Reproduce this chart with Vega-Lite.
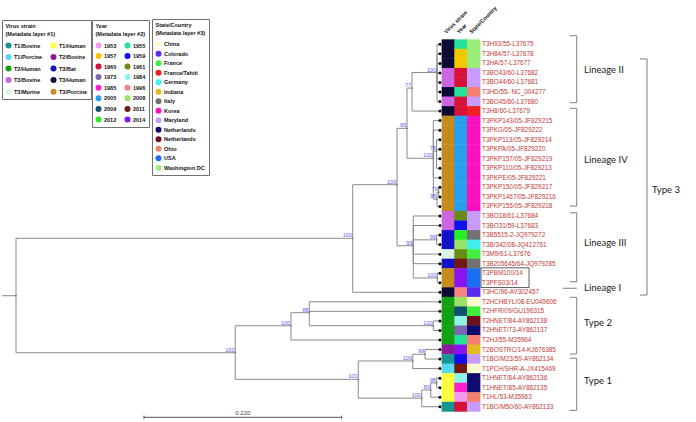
{
  "$schema": "https://vega.github.io/schema/vega-lite/v6.json",
  "width": 696,
  "height": 422,
  "autosize": {"type": "none"},
  "padding": 0,
  "background": "#ffffff",
  "config": {
    "view": {"stroke": null},
    "axis": {"disable": true},
    "legend": {
      "labelFont": "Liberation Sans",
      "labelFontSize": 5.5,
      "labelFontWeight": "bold",
      "labelColor": "#111111",
      "titleFont": "Liberation Sans",
      "titleFontSize": 5.5,
      "titleFontWeight": "bold",
      "titleColor": "#111111",
      "titleLineHeight": 8.3,
      "titlePadding": 5,
      "strokeColor": "#707070",
      "fillColor": "#ffffff",
      "padding": 3.5,
      "rowPadding": 3.6,
      "columnPadding": 8,
      "symbolSize": 36,
      "symbolType": "circle",
      "symbolStrokeWidth": 0,
      "labelOffset": 2.5
    }
  },
  "datasets": {
    "nodes": [
      {"id": "stub", "parent": null, "dist": -0.0156, "pos": 27.36},
      {"id": "root", "parent": "stub", "dist": 0, "pos": 27.36},
      {"id": "T3", "parent": "root", "dist": 0.3747, "pos": 21.34, "boot": "100"},
      {"id": "T12", "parent": "root", "dist": 0.244, "pos": 33.34, "boot": "100"},
      {"id": "A", "parent": "T3", "dist": 0.424, "pos": 15.72, "boot": "100"},
      {"id": "D", "parent": "A", "dist": 0.4351, "pos": 9.81, "boot": "95"},
      {"id": "C", "parent": "A", "dist": 0.4421, "pos": 22.12, "boot": "99"},
      {"id": "E", "parent": "D", "dist": 0.4407, "pos": 5.59, "boot": "77"},
      {"id": "F", "parent": "D", "dist": 0.4644, "pos": 12.95, "boot": "100"},
      {"id": "G", "parent": "E", "dist": 0.4685, "pos": 3.96, "boot": "100"},
      {"id": "N78", "parent": "F", "dist": 0.468, "pos": 12.2, "boot": "78"},
      {"id": "N95", "parent": "F", "dist": 0.4685, "pos": 17.25, "boot": "95"},
      {"id": "N79", "parent": "N95", "dist": 0.4704, "pos": 16.5, "boot": "79"},
      {"id": "N99a", "parent": "C", "dist": 0.4681, "pos": 21.5, "boot": "99"},
      {"id": "N100a", "parent": "C", "dist": 0.4688, "pos": 25.5, "boot": "100"},
      {"id": "T2", "parent": "T12", "dist": 0.306, "pos": 30.51, "boot": "100"},
      {"id": "T1", "parent": "T12", "dist": 0.3809, "pos": 36.13, "boot": "100"},
      {"id": "N88", "parent": "T2", "dist": 0.3264, "pos": 29.14, "boot": "88"},
      {"id": "N100b", "parent": "N88", "dist": 0.4644, "pos": 30.5, "boot": "100"},
      {"id": "N100c", "parent": "T1", "dist": 0.4415, "pos": 34.2, "boot": "100"},
      {"id": "N99b", "parent": "N100c", "dist": 0.4551, "pos": 33.5, "boot": "99"},
      {"id": "N100d", "parent": "T1", "dist": 0.4515, "pos": 38.1, "boot": "100"},
      {"id": "N83", "parent": "N100d", "dist": 0.4615, "pos": 37.25, "boot": "83"},
      {"id": "N98", "parent": "N83", "dist": 0.4681, "pos": 36.5, "boot": "98"},
      {"id": "L1", "parent": "G", "dist": 0.4718, "pos": 1, "name": "T3H93/55-L37675", "strain": "T3/Human", "year": "1955", "state": "Washington DC"},
      {"id": "L2", "parent": "G", "dist": 0.4718, "pos": 2, "name": "T3H84/57-L37678", "strain": "T3/Human", "year": "1957", "state": "Washington DC"},
      {"id": "L3", "parent": "G", "dist": 0.4718, "pos": 3, "name": "T3HA/57-L37677", "strain": "T3/Human", "year": "1957", "state": "Washington DC"},
      {"id": "L4", "parent": "G", "dist": 0.4718, "pos": 4, "name": "T3BO43/60-L37682", "strain": "T3/Bovine", "year": "1960", "state": "Maryland"},
      {"id": "L5", "parent": "G", "dist": 0.4718, "pos": 5, "name": "T3BO44/60-L37681", "strain": "T3/Bovine", "year": "1960", "state": "Maryland"},
      {"id": "L6", "parent": "G", "dist": 0.4718, "pos": 6, "name": "T3HD/55- NC_004277", "strain": "T3/Human", "year": "1955", "state": "Ohio"},
      {"id": "L7", "parent": "G", "dist": 0.4718, "pos": 7, "name": "T3BO45/60-L37680", "strain": "T3/Bovine", "year": "1960", "state": "Maryland"},
      {"id": "L8", "parent": "E", "dist": 0.4718, "pos": 8, "name": "T3H8/60-L37679", "strain": "T3/Human", "year": "1960", "state": "France/Tahiti"},
      {"id": "L9", "parent": "F", "dist": 0.4718, "pos": 9, "name": "T3PKP143/05-JF829215", "strain": "T3/Porcine", "year": "2005", "state": "Korea"},
      {"id": "L10", "parent": "F", "dist": 0.4718, "pos": 10, "name": "T3PKG/05-JF829222", "strain": "T3/Porcine", "year": "2005", "state": "Korea"},
      {"id": "L11", "parent": "N78", "dist": 0.4718, "pos": 11, "name": "T3PKP113/05-JF829214", "strain": "T3/Porcine", "year": "2005", "state": "Korea"},
      {"id": "L12", "parent": "N78", "dist": 0.4718, "pos": 12, "name": "T3PKPA/05-JF829220", "strain": "T3/Porcine", "year": "2005", "state": "Korea"},
      {"id": "L13", "parent": "N78", "dist": 0.4718, "pos": 13, "name": "T3PKP157/05-JF829219", "strain": "T3/Porcine", "year": "2005", "state": "Korea"},
      {"id": "L14", "parent": "N78", "dist": 0.4718, "pos": 14, "name": "T3PKP110/05-JF829213", "strain": "T3/Porcine", "year": "2005", "state": "Korea"},
      {"id": "L15", "parent": "F", "dist": 0.4718, "pos": 15, "name": "T3PKPE/05-JF829221", "strain": "T3/Porcine", "year": "2005", "state": "Korea"},
      {"id": "L16", "parent": "N79", "dist": 0.4718, "pos": 16, "name": "T3PKP150/05-JF829217", "strain": "T3/Porcine", "year": "2005", "state": "Korea"},
      {"id": "L17", "parent": "N79", "dist": 0.4718, "pos": 17, "name": "T3PKP1467/05-JF829216", "strain": "T3/Porcine", "year": "2005", "state": "Korea"},
      {"id": "L18", "parent": "N95", "dist": 0.4718, "pos": 18, "name": "T3PKP155/05-JF829218", "strain": "T3/Porcine", "year": "2005", "state": "Korea"},
      {"id": "L19", "parent": "C", "dist": 0.4718, "pos": 19, "name": "T3BO18/61-L37684", "strain": "T3/Bovine", "year": "1961", "state": "Maryland"},
      {"id": "L20", "parent": "C", "dist": 0.4718, "pos": 20, "name": "T3BO31/59-L37683", "strain": "T3/Bovine", "year": "1959", "state": "Maryland"},
      {"id": "L21", "parent": "N99a", "dist": 0.4718, "pos": 21, "name": "T3B5515-2-JQ979272", "strain": "T3/Bat", "year": "2012", "state": "Italy"},
      {"id": "L22", "parent": "N99a", "dist": 0.4718, "pos": 22, "name": "T3B/342/08-JQ412761", "strain": "T3/Bat", "year": "2008", "state": "Germany"},
      {"id": "L23", "parent": "C", "dist": 0.4718, "pos": 23, "name": "T3M9/61-L37676", "strain": "T3/Murine", "year": "1961", "state": "France"},
      {"id": "L24", "parent": "C", "dist": 0.4718, "pos": 24, "name": "T3B205645/64-JQ979285", "strain": "T3/Bat", "year": "2011", "state": "Italy"},
      {"id": "L25", "parent": "N100a", "dist": 0.4718, "pos": 25, "name": "T3PBM100/14", "strain": "T3/Porcine", "year": "2014", "state": "USA"},
      {"id": "L26", "parent": "N100a", "dist": 0.4718, "pos": 26, "name": "T3PFS03/14", "strain": "T3/Porcine", "year": "2014", "state": "USA"},
      {"id": "L27", "parent": "T3", "dist": 0.4718, "pos": 27, "name": "T3HC/96-AY302457", "strain": "T3/Human", "year": "1996", "state": "Colorado"},
      {"id": "L28", "parent": "N88", "dist": 0.4718, "pos": 28, "name": "T2HCHBYL/08-EU049606", "strain": "T2/Human", "year": "2008", "state": "China"},
      {"id": "L29", "parent": "N88", "dist": 0.4718, "pos": 29, "name": "T2HFR/09/GU196315", "strain": "T2/Human", "year": "2009", "state": "France"},
      {"id": "L30", "parent": "N100b", "dist": 0.4718, "pos": 30, "name": "T2HNET/84-AY862138", "strain": "T2/Human", "year": "1984", "state": "Netherlands_2"},
      {"id": "L31", "parent": "N100b", "dist": 0.4718, "pos": 31, "name": "T2HNET/73-AY862137", "strain": "T2/Human", "year": "1973", "state": "Netherlands"},
      {"id": "L32", "parent": "T2", "dist": 0.4718, "pos": 32, "name": "T2HJ/55-M35964", "strain": "T2/Human", "year": "1955", "state": "Ohio"},
      {"id": "L33", "parent": "N99b", "dist": 0.4718, "pos": 33, "name": "T2BOSTRC/14-KJ676385", "strain": "T2/Bovine", "year": "2014", "state": "Indiana"},
      {"id": "L34", "parent": "N99b", "dist": 0.4718, "pos": 34, "name": "T1BO/M23/59-AY862134", "strain": "T1/Bovine", "year": "1959", "state": "Maryland"},
      {"id": "L35", "parent": "N100c", "dist": 0.4718, "pos": 35, "name": "T1PCH/SHR-A-JX415469", "strain": "T1/Porcine", "year": "2011", "state": "China"},
      {"id": "L36", "parent": "N98", "dist": 0.4718, "pos": 36, "name": "T1HNET/84-AY862136", "strain": "T1/Human", "year": "1984", "state": "Netherlands"},
      {"id": "L37", "parent": "N98", "dist": 0.4718, "pos": 37, "name": "T1HNET/85-AY862135", "strain": "T1/Human", "year": "1985", "state": "Netherlands"},
      {"id": "L38", "parent": "N83", "dist": 0.4718, "pos": 38, "name": "T1HL/53-M35963", "strain": "T1/Human", "year": "1953", "state": "Ohio"},
      {"id": "L39", "parent": "N100d", "dist": 0.4718, "pos": 39, "name": "T1BO/M50/60-AY862133", "strain": "T1/Bovine", "year": "1960", "state": "Maryland"}
    ],
    "groups": [
      {"group": "Lineage II", "kind": "lineage", "top": 0.1, "bottom": 7.12, "mid": 3.69},
      {"group": "Lineage IV", "kind": "lineage", "top": 7.71, "bottom": 17.96, "mid": 13.13},
      {"group": "Lineage III", "kind": "lineage", "top": 18.66, "bottom": 25.89, "mid": 21.8},
      {"group": "Lineage I", "kind": "single", "top": 26.58, "bottom": 26.58, "mid": 26.5},
      {"group": "Type 2", "kind": "lineage", "top": 27.53, "bottom": 33.47, "mid": 30.25},
      {"group": "Type 1", "kind": "lineage", "top": 33.92, "bottom": 39.38, "mid": 36.27},
      {"group": "Type 3", "kind": "type", "top": 2.54, "bottom": 27.29, "mid": 16.28}
    ],
    "bar": [{"start": 0.1424, "end": 0.3624, "length": "0.220"}]
  },
  "resolve": {"scale": {"color": "independent"}},
  "layer": [
    {
      "data": {"name": "nodes"},
      "transform": [
        {"lookup": "parent", "from": {"data": {"name": "nodes"}, "key": "id", "fields": ["dist", "pos"]}, "as": ["pdist", "ppos"]},
        {"filter": "isValid(datum.pdist)"}
      ],
      "mark": {"type": "rule", "color": "#8a8a8a", "strokeWidth": 1},
      "encoding": {
        "x": {"field": "pdist", "type": "quantitative", "scale": {"domain": [-0.0178, 0.7567], "nice": false, "zero": false}, "axis": null},
        "x2": {"field": "dist"},
        "y": {"field": "pos", "type": "quantitative", "scale": {"domain": [-3.645, 40.6], "nice": false, "zero": false, "reverse": true}, "axis": null}
      }
    },
    {
      "data": {"name": "nodes"},
      "transform": [
        {"lookup": "parent", "from": {"data": {"name": "nodes"}, "key": "id", "fields": ["dist", "pos"]}, "as": ["pdist", "ppos"]},
        {"filter": "isValid(datum.pdist)"}
      ],
      "mark": {"type": "rule", "color": "#8a8a8a", "strokeWidth": 1},
      "encoding": {
        "x": {"field": "pdist", "type": "quantitative", "scale": {"domain": [-0.0178, 0.7567], "nice": false, "zero": false}, "axis": null},
        "y": {"field": "ppos", "type": "quantitative", "scale": {"domain": [-3.645, 40.6], "nice": false, "zero": false, "reverse": true}, "axis": null},
        "y2": {"field": "pos"}
      }
    },
    {
      "data": {"name": "nodes"},
      "transform": [{"filter": "!isValid(datum.name) && datum.id != 'stub'"}],
      "mark": {"type": "point", "filled": true, "opacity": 1, "color": "#7a7a7a", "size": 3},
      "encoding": {
        "x": {"field": "dist", "type": "quantitative"},
        "y": {"field": "pos", "type": "quantitative"}
      }
    },
    {
      "data": {"name": "nodes"},
      "transform": [{"filter": "isValid(datum.name)"}],
      "mark": {"type": "point", "filled": true, "opacity": 1, "color": "#000000", "size": 9},
      "encoding": {
        "x": {"field": "dist", "type": "quantitative"},
        "y": {"field": "pos", "type": "quantitative"}
      }
    },
    {
      "data": {"name": "nodes"},
      "transform": [{"filter": "isValid(datum.boot)"}],
      "mark": {"type": "text", "align": "right", "baseline": "bottom", "dx": -0.8, "font": "Liberation Sans", "fontSize": 5.5, "color": "#5858ee"},
      "encoding": {
        "x": {"field": "dist", "type": "quantitative"},
        "y": {"field": "pos", "type": "quantitative"},
        "text": {"field": "boot"}
      }
    },
    {
      "data": {"name": "nodes"},
      "transform": [{"filter": "isValid(datum.name)"}],
      "mark": {"type": "point", "filled": true, "opacity": 1, "strokeWidth": 0, "size": 180, "shape": "M-1,-0.74H1V0.74H-1Z"},
      "encoding": {
        "x": {"datum": 0.4811, "type": "quantitative"},
        "y": {"field": "pos", "type": "quantitative"},
        "color": {
          "field": "strain", "type": "nominal",
          "scale": {
            "domain": ["T1/Bovine", "T1/Porcine", "T2/Human", "T3/Bovine", "T3/Murine", "T1/Human", "T2/Bovine", "T3/Bat", "T3/Human", "T3/Porcine"],
            "range": ["#179595", "#55d8f2", "#14a014", "#cc66e0", "#d8f5e2", "#ffff40", "#8b1a9c", "#1212c8", "#0b0b33", "#c58b1c"]
          },
          "legend": {"title": ["Virus strain", "(Metadata layer #1)"], "orient": "none", "legendX": 2, "legendY": 20, "columns": 2, "rowPadding": 4.6}
        }
      }
    },
    {
      "data": {"name": "nodes"},
      "transform": [{"filter": "isValid(datum.name)"}],
      "mark": {"type": "point", "filled": true, "opacity": 1, "strokeWidth": 0, "size": 180, "shape": "M-1,-0.74H1V0.74H-1Z"},
      "encoding": {
        "x": {"datum": 0.4952, "type": "quantitative"},
        "y": {"field": "pos", "type": "quantitative"},
        "color": {
          "field": "year", "type": "nominal",
          "scale": {
            "domain": ["1953", "1957", "1960", "1973", "1985", "2005", "2009", "2012", "1955", "1959", "1961", "1984", "1996", "2008", "2011", "2014"],
            "range": ["#f29bf2", "#f5c800", "#d4123a", "#7a68b0", "#ff1fcf", "#269ff0", "#12506f", "#24f024", "#22e39a", "#1010ee", "#6b8c12", "#8ef5e6", "#f58585", "#99e266", "#701a12", "#8a14f0"]
          },
          "legend": {"title": ["Year", "(Metadata layer #2)"], "orient": "none", "legendX": 92, "legendY": 20, "columns": 2, "rowPadding": 3.6}
        }
      }
    },
    {
      "data": {"name": "nodes"},
      "transform": [{"filter": "isValid(datum.name)"}],
      "mark": {"type": "point", "filled": true, "opacity": 1, "strokeWidth": 0, "size": 180, "shape": "M-1,-0.74H1V0.74H-1Z"},
      "encoding": {
        "x": {"datum": 0.5093, "type": "quantitative"},
        "y": {"field": "pos", "type": "quantitative"},
        "color": {
          "field": "state", "type": "nominal",
          "scale": {
            "domain": ["China", "Colorado", "France", "France/Tahiti", "Germany", "Indiana", "Italy", "Korea", "Maryland", "Netherlands", "Netherlands_2", "Ohio", "USA", "Washington DC"],
            "range": ["#fffacc", "#5a2af0", "#40ee40", "#f02020", "#40f0f0", "#e3bb1c", "#727272", "#ff10be", "#c89bff", "#0c0c6e", "#6e1020", "#f5806e", "#1a6ff0", "#9bee77"]
          },
          "legend": {"title": ["State/Country", "(Metadata layer #3)"], "orient": "none", "legendX": 152, "legendY": 19, "columns": 1, "rowPadding": 2.5, "labelExpr": "datum.label == 'Netherlands_2' ? 'Netherlands' : datum.label"}
        }
      }
    },
    {
      "data": {"name": "nodes"},
      "transform": [{"filter": "isValid(datum.name)"}],
      "mark": {"type": "text", "align": "left", "baseline": "middle", "dx": 42, "font": "Liberation Sans", "fontSize": 6.4, "color": "#c23a36"},
      "encoding": {
        "x": {"field": "dist", "type": "quantitative"},
        "y": {"field": "pos", "type": "quantitative"},
        "text": {"field": "name"}
      }
    },
    {
      "data": {"values": [{}]},
      "mark": {"type": "point", "filled": false, "opacity": 1, "color": "#333333", "strokeWidth": 0.8, "size": 2304, "shape": "M-1,-0.41H1V0.41H-1Z"},
      "encoding": {
        "x": {"datum": 0.5442, "type": "quantitative"},
        "y": {"datum": 25.47, "type": "quantitative"}
      }
    },
    {
      "data": {"values": [{}]},
      "mark": {"type": "text", "text": "Virus strain", "angle": 315, "align": "left", "baseline": "alphabetic", "dx": -3, "font": "Liberation Sans", "fontSize": 5.5, "fontWeight": "bold", "color": "#111111"},
      "encoding": {
        "x": {"datum": 0.4811, "type": "quantitative"},
        "y": {"datum": -0.29, "type": "quantitative"}
      }
    },
    {
      "data": {"values": [{}]},
      "mark": {"type": "text", "text": "Year", "angle": 315, "align": "left", "baseline": "alphabetic", "dx": -3, "font": "Liberation Sans", "fontSize": 5.5, "fontWeight": "bold", "color": "#111111"},
      "encoding": {
        "x": {"datum": 0.4952, "type": "quantitative"},
        "y": {"datum": -0.29, "type": "quantitative"}
      }
    },
    {
      "data": {"values": [{}]},
      "mark": {"type": "text", "text": "State/Country", "angle": 315, "align": "left", "baseline": "alphabetic", "dx": -3, "font": "Liberation Sans", "fontSize": 5.5, "fontWeight": "bold", "color": "#111111"},
      "encoding": {
        "x": {"datum": 0.5093, "type": "quantitative"},
        "y": {"datum": -0.29, "type": "quantitative"}
      }
    },
    {
      "data": {"name": "groups"},
      "transform": [{"filter": "datum.kind == 'lineage'"}],
      "mark": {"type": "rule", "color": "#7f7f7f", "strokeWidth": 1},
      "encoding": {
        "x": {"datum": 0.624, "type": "quantitative"},
        "y": {"field": "top", "type": "quantitative"},
        "y2": {"field": "bottom"}
      }
    },
    {
      "data": {"name": "groups"},
      "transform": [{"filter": "datum.kind == 'lineage'"}, {"fold": ["top", "bottom"], "as": ["end", "value"]}],
      "mark": {"type": "point", "filled": false, "opacity": 1, "color": "#7f7f7f", "strokeWidth": 1, "size": 45, "shape": "M-1,0H1"},
      "encoding": {
        "x": {"datum": 0.6202, "type": "quantitative"},
        "y": {"field": "value", "type": "quantitative"}
      }
    },
    {
      "data": {"name": "groups"},
      "transform": [{"filter": "datum.kind == 'single'"}],
      "mark": {"type": "point", "filled": false, "opacity": 1, "color": "#7f7f7f", "strokeWidth": 1, "size": 196, "shape": "M-1,0H1"},
      "encoding": {
        "x": {"datum": 0.6162, "type": "quantitative"},
        "y": {"field": "top", "type": "quantitative"}
      }
    },
    {
      "data": {"name": "groups"},
      "transform": [{"filter": "datum.kind != 'type'"}],
      "mark": {"type": "text", "align": "left", "baseline": "middle", "font": "Lato", "fontSize": 9.5, "color": "#1a1a1a"},
      "encoding": {
        "x": {"datum": 0.6321, "type": "quantitative"},
        "y": {"field": "mid", "type": "quantitative"},
        "text": {"field": "group"}
      }
    },
    {
      "data": {"name": "groups"},
      "transform": [{"filter": "datum.kind == 'type'"}],
      "mark": {"type": "rule", "color": "#7f7f7f", "strokeWidth": 1},
      "encoding": {
        "x": {"datum": 0.7022, "type": "quantitative"},
        "y": {"field": "top", "type": "quantitative"},
        "y2": {"field": "bottom"}
      }
    },
    {
      "data": {"name": "groups"},
      "transform": [{"filter": "datum.kind == 'type'"}, {"fold": ["top", "bottom"], "as": ["end", "value"]}],
      "mark": {"type": "point", "filled": false, "opacity": 1, "color": "#7f7f7f", "strokeWidth": 1, "size": 49, "shape": "M-1,0H1"},
      "encoding": {
        "x": {"datum": 0.6983, "type": "quantitative"},
        "y": {"field": "value", "type": "quantitative"}
      }
    },
    {
      "data": {"name": "groups"},
      "transform": [{"filter": "datum.kind == 'type'"}],
      "mark": {"type": "text", "align": "left", "baseline": "middle", "font": "Lato", "fontSize": 9.5, "color": "#1a1a1a"},
      "encoding": {
        "x": {"datum": 0.7078, "type": "quantitative"},
        "y": {"field": "mid", "type": "quantitative"},
        "text": {"field": "group"}
      }
    },
    {
      "data": {"name": "bar"},
      "mark": {"type": "rule", "color": "#555555", "strokeWidth": 1},
      "encoding": {
        "x": {"field": "start", "type": "quantitative"},
        "x2": {"field": "end"},
        "y": {"datum": 40.11, "type": "quantitative"}
      }
    },
    {
      "data": {"name": "bar"},
      "transform": [{"fold": ["start", "end"], "as": ["side", "value"]}],
      "mark": {"type": "point", "filled": false, "opacity": 1, "color": "#555555", "strokeWidth": 1, "size": 12, "shape": "M0,-1V1"},
      "encoding": {
        "x": {"field": "value", "type": "quantitative"},
        "y": {"datum": 40.11, "type": "quantitative"}
      }
    },
    {
      "data": {"name": "bar"},
      "mark": {"type": "text", "align": "center", "baseline": "bottom", "dy": -1.5, "font": "Liberation Sans", "fontSize": 6, "color": "#444444"},
      "encoding": {
        "x": {"datum": 0.2524, "type": "quantitative"},
        "y": {"datum": 40.11, "type": "quantitative"},
        "text": {"field": "length"}
      }
    }
  ]
}
